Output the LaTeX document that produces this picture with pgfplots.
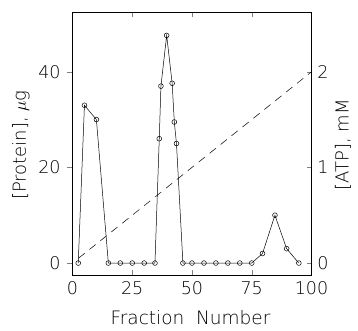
\documentclass[border=0pt]{standalone}
\usepackage{fontspec}
\setmainfont{DejaVu Sans ExtraLight}
\usepackage{pgfplots}
\pgfplotsset{compat=1.18}
\begin{document}
\fontsize{17}{20}\selectfont
\begin{tikzpicture}
\path (0,0) rectangle (358pt,329pt);
\begin{axis}[
  at={(72.5pt,54pt)}, anchor=south west,
  scale only axis, width=239pt, height=263pt,
  xmin=0, xmax=100, ymin=-2.5, ymax=52.5,
  xtick={0,25,50,75,100}, ytick={0,20,40},
  xtick pos=both, ytick pos=left,
  x tick style={line width=0.5pt}, y tick style={line width=0.5pt},
  xtick align=inside, ytick align=outside,
  major tick length=5pt,
  axis line style={line width=0.6pt},
  tick label style={font=\fontsize{17.5}{20}\selectfont},
  /pgf/number format/assume math mode=true,
  xticklabel style={yshift=-1pt},
  yticklabel style={xshift=-1pt},
]
\addplot[black, line width=0.5pt, mark=o, mark size=2.4pt, mark options={fill=white, line width=0.5pt}]
coordinates {
(2.4,0) (5,33) (10,30) (15,0) (20,0) (25,0) (30,0) (34.5,0)
(36.3,26) (37,37) (39.4,47.6) (41.7,37.6) (42.6,29.5) (43.5,25)
(46.2,0) (50,0) (55,0) (60,0) (65,0) (70,0) (75,0)
(79.5,2) (84.7,10) (89.6,3) (94.7,0)
};
\end{axis}
\begin{axis}[
  at={(72.5pt,54pt)}, anchor=south west,
  scale only axis, width=239pt, height=263pt,
  xmin=0, xmax=100, ymin=-0.125, ymax=2.625,
  axis x line=none, axis y line*=right,
  ytick={0,1,2}, ytick align=inside,
  major tick length=5pt,
  y tick style={line width=0.5pt},
  axis line style={line width=0.6pt},
  tick label style={font=\fontsize{17.5}{20}\selectfont},
  /pgf/number format/assume math mode=true,
]
\addplot[black, line width=0.5pt, dash pattern=on 8pt off 6pt]
coordinates {(2.5,0.05) (100,2.0)};
\end{axis}
\node[font=\fontsize{18.5}{21}\selectfont] at (190.5pt,11pt) {Fraction\ \ Number};
\node[rotate=90, font=\fontsize{18}{21}\selectfont] at (21pt,184pt) {[Protein], $\mu$g};
\node[rotate=90, font=\fontsize{18}{21}\selectfont] at (343pt,184pt) {[ATP], mM};
\end{tikzpicture}
\end{document}
